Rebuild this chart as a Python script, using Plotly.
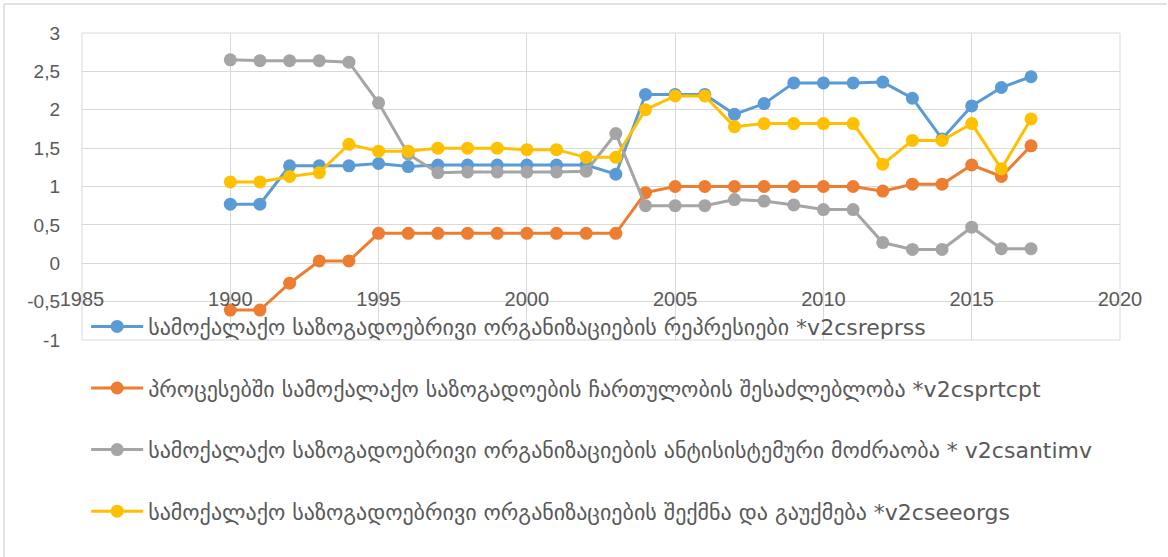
import plotly.graph_objects as go

years = list(range(1990, 2018))

repress = [0.77, 0.77, 1.27, 1.27, 1.27, 1.30, 1.26, 1.28, 1.28, 1.28, 1.28, 1.28, 1.28, 1.16,
           2.20, 2.20, 2.20, 1.94, 2.08, 2.35, 2.35, 2.35, 2.36, 2.15, 1.62, 2.05, 2.29, 2.43]
participation = [-0.61, -0.61, -0.26, 0.03, 0.03, 0.39, 0.39, 0.39, 0.39, 0.39, 0.39, 0.39, 0.39, 0.39,
                 0.92, 1.00, 1.00, 1.00, 1.00, 1.00, 1.00, 1.00, 0.94, 1.03, 1.03, 1.28, 1.13, 1.53]
antisystem = [2.65, 2.64, 2.64, 2.64, 2.62, 2.09, 1.42, 1.18, 1.19, 1.19, 1.19, 1.19, 1.20, 1.69,
              0.75, 0.75, 0.75, 0.83, 0.81, 0.76, 0.70, 0.70, 0.27, 0.18, 0.18, 0.47, 0.19, 0.19]
entry_exit = [1.06, 1.06, 1.13, 1.18, 1.55, 1.46, 1.46, 1.50, 1.50, 1.50, 1.48, 1.48, 1.38, 1.38,
              2.00, 2.18, 2.18, 1.78, 1.82, 1.82, 1.82, 1.82, 1.29, 1.60, 1.60, 1.82, 1.23, 1.88]

names = [
    "სამოქალაქო საზოგადოებრივი ორგანიზაციების რეპრესიები *v2csreprss",
    "პროცესებში სამოქალაქო საზოგადოების ჩართულობის შესაძლებლობა *v2csprtcpt",
    "სამოქალაქო საზოგადოებრივი ორგანიზაციების ანტისისტემური მოძრაობა * v2csantimv",
    "სამოქალაქო საზოგადოებრივი ორგანიზაციების შექმნა და გაუქმება *v2cseeorgs",
]
colors = ["#5B9BD5", "#ED7D31", "#A5A5A5", "#FFC000"]

x_ticks = list(range(1985, 2021, 5))
y_ticks = [-1, -0.5, 0, 0.5, 1, 1.5, 2, 2.5, 3]
y_labels = ["-1", "-0,5", "0", "0,5", "1", "1,5", "2", "2,5", "3"]

fig = go.Figure()
for i, (vals, name, color) in enumerate(zip([repress, participation, antisystem, entry_exit], names, colors)):
    fig.add_trace(go.Scatter(x=years, y=vals, mode="lines+markers", name=name,
                             legendgroup=str(i),
                             line=dict(color=color, width=3),
                             marker=dict(color=color, size=13)))

grid = "#D9D9D9"
fig.update_layout(
    width=1168, height=557,
    margin=dict(l=82, r=48, t=33, b=217),
    paper_bgcolor="white", plot_bgcolor="white",
    showlegend=True,
    legend=dict(x=0.004, y=0.112, xanchor="left", yanchor="top",
                bgcolor="rgba(0,0,0,0)", tracegroupgap=30, itemwidth=52,
                font=dict(family="DejaVu Sans", size=22, color="#595959")),
)
fig.update_xaxes(range=[1985, 2020], tickvals=x_ticks, showgrid=True, gridcolor=grid, gridwidth=1,
                 zeroline=False, showline=False, ticks="", anchor="free", position=0.25,
                 ticklabelstandoff=22,
                 tickfont=dict(family="Liberation Sans", size=20, color="#595959"))
fig.update_yaxes(range=[-1, 3], tickvals=y_ticks, ticktext=y_labels, showgrid=True, gridcolor=grid,
                 gridwidth=1, zeroline=True, zerolinecolor=grid, zerolinewidth=1, showline=False,
                 ticks="", ticklabelstandoff=21,
                 tickfont=dict(family="Liberation Sans", size=19, color="#595959"))

# plot-area frame and chart border
fig.add_shape(type="rect", xref="paper", yref="paper", x0=0, y0=0, x1=1, y1=1,
              line=dict(color=grid, width=1), layer="below")
fig.add_shape(type="line", xref="paper", yref="paper", x0=-0.0751, y0=-0.72, x1=-0.0751, y1=1.0945,
              line=dict(color=grid, width=1.5))
fig.add_shape(type="line", xref="paper", yref="paper", x0=-0.0751, y0=1.0945, x1=1.045, y1=1.0945,
              line=dict(color=grid, width=1.5))

fig.write_html("out.html", config={"displayModeBar": False},
               post_script="document.body.style.margin='0';")
